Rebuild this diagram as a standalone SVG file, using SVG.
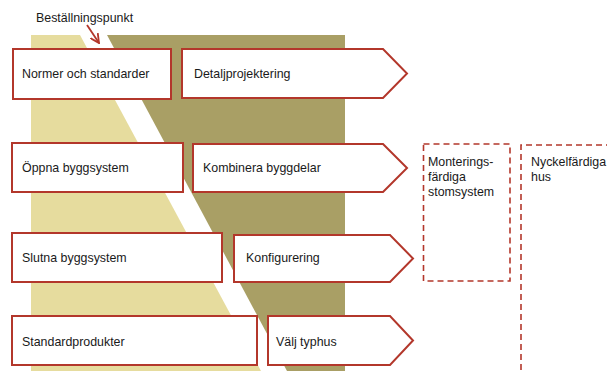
<svg xmlns="http://www.w3.org/2000/svg" width="607" height="371" viewBox="0 0 607 371">
<style>
.box{fill:#fff;stroke:#b3372b;stroke-width:2}
.dash{fill:none;stroke:#b3372b;stroke-width:1.6;stroke-dasharray:6,4}
text{font-family:"Liberation Sans",Arial,sans-serif;font-size:12.4px;fill:#1a1a1a}
</style>
<defs>
<marker id="ah" viewBox="0 0 10 10" refX="9" refY="5" markerWidth="10" markerHeight="10" orient="auto" markerUnits="userSpaceOnUse">
<path d="M0,0.5 L9,5 L0,9.5" fill="none" stroke="#b3372b" stroke-width="1.8"/>
</marker>
</defs>
<g id="background">
<polygon points="31,35 80,35 261,371 31,371" fill="#e6dc9e"/>
<polygon points="107,35 345,35 345,371 287,371" fill="#a99f65"/>
</g>
<g id="connectors">
<line x1="87" y1="25" x2="99" y2="43" stroke="#b3372b" stroke-width="1.8" marker-end="url(#ah)"/>
</g>
<g id="label-bestallningspunkt"><text x="36" y="22">Beställningspunkt</text></g>
<g id="n1"><rect class="box" x="13" y="49" width="158" height="50"/><text x="22" y="78">Normer och standarder</text></g>
<g id="a1"><polygon class="box" points="182,49 383,49 407,73.5 383,98 182,98"/><text x="194" y="78">Detaljprojektering</text></g>
<g id="n2"><rect class="box" x="12" y="143" width="171" height="49"/><text x="22" y="172">Öppna byggsystem</text></g>
<g id="a2"><polygon class="box" points="193,144 383,144 407,168 383,192 193,192"/><text x="203" y="172">Kombinera byggdelar</text></g>
<g id="n3"><rect class="box" x="12" y="233" width="210" height="49"/><text x="22" y="262">Slutna byggsystem</text></g>
<g id="a3"><polygon class="box" points="234,235 390,235 413,258.5 390,282 234,282"/><text x="246" y="262">Konfigurering</text></g>
<g id="n4"><rect class="box" x="12" y="316" width="245" height="49"/><text x="22" y="346">Standardprodukter</text></g>
<g id="a4"><polygon class="box" points="268,316 390,316 413,340.5 390,365 268,365"/><text x="276" y="346">Välj typhus</text></g>
<g id="d1"><rect class="dash" x="423.5" y="144" width="86.5" height="137"/><text x="428" y="166">Monterings-</text><text x="428" y="181">färdiga</text><text x="428" y="196">stomsystem</text></g>
<g id="d2"><path class="dash" d="M521,380 L521,145 L612,145"/><text x="531" y="166">Nyckelfärdiga</text><text x="531" y="181">hus</text></g>
</svg>
